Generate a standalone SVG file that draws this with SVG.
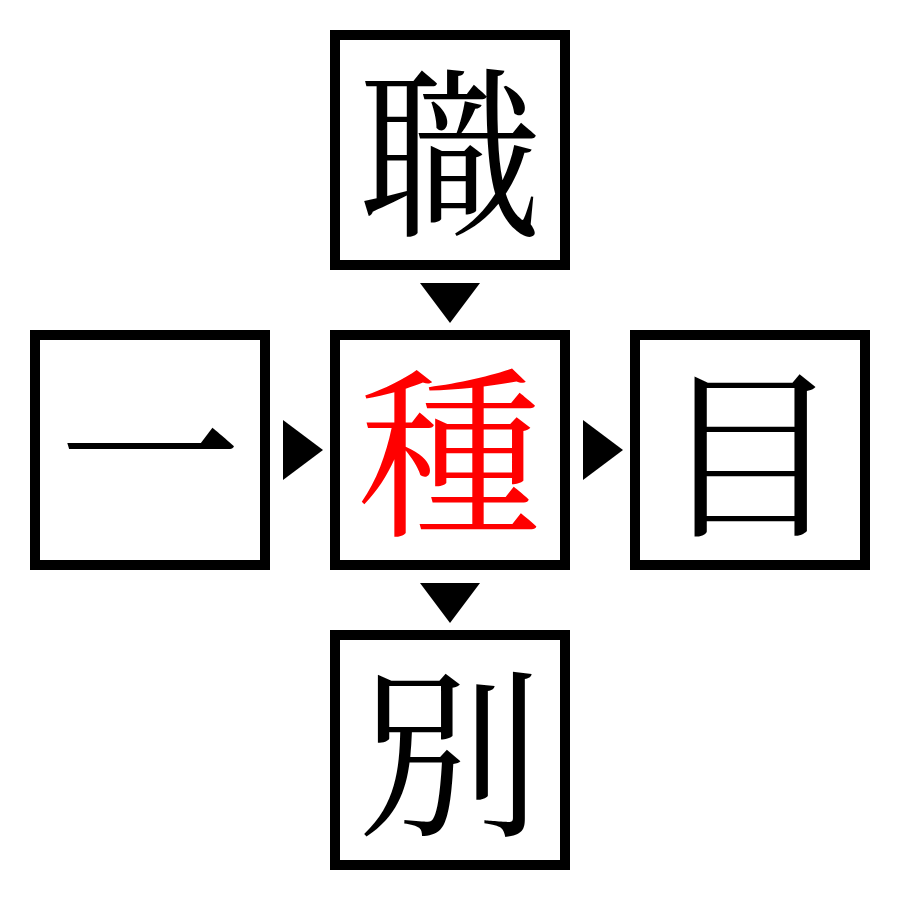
<svg xmlns="http://www.w3.org/2000/svg" width="900" height="900" viewBox="0 0 900 900">
<style>
.box{fill:#fff;stroke:#000;stroke-width:10}
.t{font-family:"Noto Serif CJK JP","Noto Sans CJK JP",serif;font-size:183px;text-anchor:middle}
.arr{fill:#000}
</style>
<rect width="900" height="900" fill="#fff"/>
<g id="n-top"><rect class="box" x="335" y="35" width="230" height="230"/><text class="t" x="450" y="222">職</text></g>
<g id="n-left"><rect class="box" x="35" y="335" width="230" height="230"/><text class="t" x="150" y="522">一</text></g>
<g id="n-center"><rect class="box" x="335" y="335" width="230" height="230"/><text class="t" x="450" y="522" fill="#f00">種</text></g>
<g id="n-right"><rect class="box" x="635" y="335" width="230" height="230"/><text class="t" x="750" y="522">目</text></g>
<g id="n-bottom"><rect class="box" x="335" y="635" width="230" height="230"/><text class="t" x="450" y="822">別</text></g>
<g id="connectors">
<polygon class="arr" points="420,283 480,283 450,323"/>
<polygon class="arr" points="283,420 323,450 283,480"/>
<polygon class="arr" points="583,420 623,450 583,480"/>
<polygon class="arr" points="420,583 480,583 450,623"/>
</g>
</svg>
